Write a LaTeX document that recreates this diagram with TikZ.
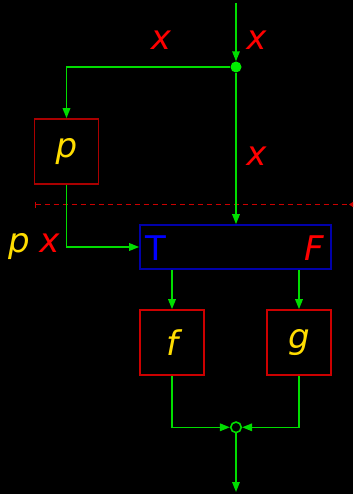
\documentclass[tikz,border=0pt]{standalone}
\usepackage{fontspec}
\setmainfont{DejaVu Sans}
\usetikzlibrary{arrows.meta}
\definecolor{lgreen}{HTML}{00DD00}
\definecolor{dotgreen}{HTML}{00EE00}
\definecolor{boxred}{HTML}{CC0000}
\definecolor{pboxred}{HTML}{AA0000}
\definecolor{boxblue}{HTML}{0000AA}
\definecolor{tblue}{HTML}{0000FF}
\definecolor{xred}{HTML}{FF0000}
\definecolor{dashred}{HTML}{CC0000}
\definecolor{lyellow}{HTML}{FFDD00}
\begin{document}
\begin{tikzpicture}[x=1pt,y=-1pt,
  every node/.style={font=\fontsize{34}{40}\selectfont\itshape},
  wire/.style={draw=lgreen,line width=1.6pt,-{Triangle[length=10pt,width=7.5pt]}},
  fbox/.style={draw=boxred,line width=1.6pt,minimum width=64pt,minimum height=65pt,inner sep=0pt},
  xlab/.style={text=xred,anchor=base,inner sep=0pt},
  ylab/.style={text=lyellow,inner sep=0pt}]
\fill[black] (0,0) rectangle (353,494);
\useasboundingbox (0,0) rectangle (353,494);
% boxes
\node[fbox,draw=pboxred] (p) at (66.5,151.5) {};
\node[ylab] (pl) at (66.5,151.5) {p};
\node[draw=boxblue,line width=1.6pt,minimum width=191pt,minimum height=44pt,inner sep=0pt] (T) at (235.5,247) {};
\node[text=tblue,anchor=base,inner sep=0pt,font=\fontsize{34}{40}\selectfont\upshape] (Tl) at (156,260) {T};
\node[text=xred,anchor=base,inner sep=0pt] (Fl) at (314,260.5) {F};
\node[fbox] (f) at (172,342.5) {};
\node[ylab] (fl) at (172,342.5) {f};
\node[fbox] (g) at (299,342.5) {};
\node[ylab] (gl) at (299,342.5) {g};
% junctions
\node[circle,fill=dotgreen,inner sep=0pt,minimum size=11pt] (d) at (236,67) {};
\node[circle,draw=lgreen,line width=1.6pt,inner sep=0pt,minimum size=10.5pt] (j) at (236,427.3) {};
\coordinate (top) at (236,3);
\coordinate (bot) at (236,492);
% labels
\node[xlab] (x1) at (161,50) {x};
\node[xlab] (x2) at (256.5,50) {x};
\node[xlab] (x3) at (256.5,166) {x};
\node[xlab] (x4) at (49.5,252) {x};
\node[text=lyellow,anchor=base,inner sep=0pt] (p2) at (19,252) {p};
% dashed separator
\coordinate (dl) at (34.5,204.5);
\coordinate (dr) at (353,204.5);
\draw[dashred,line width=1.6pt,dash pattern=on 5pt off 4pt,{Bar[width=6pt]}-{Triangle[length=4pt,width=5pt,reversed]}] (dl) -- (dr);
% wires
\draw[wire] (top) -- (d);
\draw[wire] (d) -| (p.north);
\draw[wire] (d) -- (d |- T.north);
\draw[wire] (p.south) |- (T.west);
\draw[wire] (f.north |- T.south) -- (f.north);
\draw[wire] (g.north |- T.south) -- (g.north);
\draw[wire] (f.south) |- (j.west);
\draw[wire] (g.south) |- (j.east);
\draw[wire] (j) -- (bot);
\end{tikzpicture}
\end{document}
